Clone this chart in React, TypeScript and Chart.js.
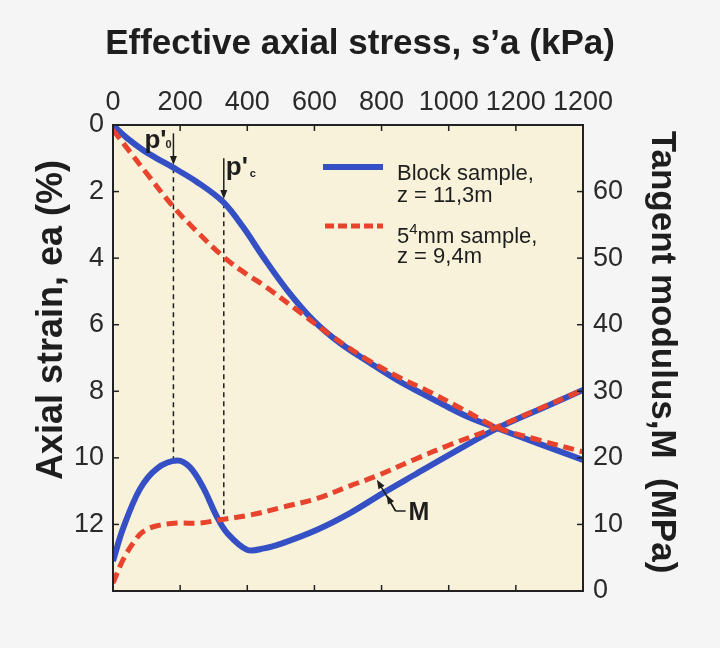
import React, { useEffect, useRef } from "react";
import { Chart, registerables } from "chart.js";

Chart.register(...registerables);

// ---------- data ----------
const stressTickLabels = ["0", "200", "400", "600", "800", "1000", "1200", "1200"];

const blockStrainStress = [0, 40, 89, 130, 176, 250, 328, 387, 447, 518, 596, 676, 766, 846, 923, 983, 1060, 1147, 1270, 1400];
const blockStrain = [0, 0.38, 0.75, 1.0, 1.26, 1.71, 2.31, 3.06, 3.96, 4.95, 5.86, 6.55, 7.15, 7.66, 8.08, 8.4, 8.78, 9.12, 9.58, 10.06];

const sample54StrainStress = [0, 50, 100, 179, 250, 328, 400, 447, 548, 646, 745, 846, 935, 1034, 1147, 1270, 1400];
const sample54Strain = [0.15, 0.8, 1.45, 2.45, 3.2, 3.95, 4.5, 4.8, 5.56, 6.3, 6.97, 7.55, 7.98, 8.5, 9.1, 9.47, 9.82];

const blockModStress = [0, 30, 80, 131, 191, 229, 268, 310, 340, 399, 450, 506, 608, 706, 804, 900, 1000, 1147, 1280, 1400];
const blockMod = [4.5, 9.4, 15.3, 18.4, 19.6, 18.6, 15.6, 11.1, 8.7, 6.2, 6.4, 7.2, 9.2, 11.7, 14.7, 17.5, 20.4, 24.5, 27.5, 30.2];

const sample54ModStress = [0, 30, 60, 89, 131, 191, 259, 319, 408, 506, 608, 706, 786, 900, 1000, 1147, 1280, 1400];
const sample54Mod = [1.2, 4.7, 7.2, 8.9, 9.8, 10.2, 10.2, 10.7, 11.4, 12.6, 13.9, 15.8, 17.3, 19.8, 21.9, 24.7, 27.6, 30.2];

// annotation anchors (data units)
const p0Stress = 180;
const p0ArrowFromStrain = 0.25;
const p0ArrowToStrain = 1.2;
const p0DashTopStrain = 1.3;
const p0DashBottomMod = 19.6;

const pcStress = 330;
const pcArrowFromStrain = 1.0;
const pcArrowToStrain = 2.22;
const pcDashTopStrain = 2.35;
const pcDashBottomMod = 10.7;

const mArrowBlueStress = 815;
const mArrowRedStress = 786;

// ---------- styles ----------
const FONT = "'Liberation Sans', Arial, Helvetica, sans-serif";
const PAGE_BG = "#f5f5f6";
const PLOT_BG = "#f8f2da";
const BLUE = "#3550c4";
const RED = "#e8432c";
const INK = "#1e1e1e";
const TENSION = 0.35;

function interp(xs: number[], ys: number[], x: number) {
  for (let i = 1; i < xs.length; i++) {
    if (x <= xs[i]) {
      const t = (x - xs[i - 1]) / (xs[i] - xs[i - 1]);
      return ys[i - 1] + t * (ys[i] - ys[i - 1]);
    }
  }
  return ys[ys.length - 1];
}

function pts(xs: number[], ys: number[]) {
  return xs.map((x, i) => ({ x, y: ys[i] }));
}

function arrow(ctx: CanvasRenderingContext2D, x1: number, y1: number, x2: number, y2: number) {
  const ang = Math.atan2(y2 - y1, x2 - x1);
  const hl = 9;
  const hw = 3.5;
  ctx.beginPath();
  ctx.moveTo(x1, y1);
  ctx.lineTo(x2 - Math.cos(ang) * hl * 0.7, y2 - Math.sin(ang) * hl * 0.7);
  ctx.stroke();
  ctx.beginPath();
  ctx.moveTo(x2, y2);
  ctx.lineTo(x2 - Math.cos(ang) * hl - Math.sin(ang) * hw, y2 - Math.sin(ang) * hl + Math.cos(ang) * hw);
  ctx.lineTo(x2 - Math.cos(ang) * hl + Math.sin(ang) * hw, y2 - Math.sin(ang) * hl - Math.cos(ang) * hw);
  ctx.closePath();
  ctx.fill();
}

const overlayPlugin = {
  id: "overlay",
  beforeDraw(chart: any) {
    const { ctx, chartArea: a, width, height } = chart;
    ctx.save();
    ctx.fillStyle = PAGE_BG;
    ctx.fillRect(0, 0, width, height);
    ctx.fillStyle = PLOT_BG;
    ctx.fillRect(a.left, a.top, a.right - a.left, a.bottom - a.top);
    ctx.restore();
  },
  beforeDatasetsDraw(chart: any) {
    const { ctx, scales } = chart;
    const x = scales.x, y = scales.y, y2 = scales.y2;
    ctx.save();
    ctx.strokeStyle = INK;
    ctx.lineWidth = 1.5;
    ctx.setLineDash([5, 4]);
    const px0 = x.getPixelForValue(p0Stress);
    ctx.beginPath();
    ctx.moveTo(px0, y.getPixelForValue(p0DashTopStrain));
    ctx.lineTo(px0, y2.getPixelForValue(p0DashBottomMod));
    ctx.stroke();
    const pxc = x.getPixelForValue(pcStress);
    ctx.beginPath();
    ctx.moveTo(pxc, y.getPixelForValue(pcDashTopStrain));
    ctx.lineTo(pxc, y2.getPixelForValue(pcDashBottomMod));
    ctx.stroke();
    ctx.restore();
  },
  afterDraw(chart: any) {
    const { ctx, chartArea: a, scales } = chart;
    const x = scales.x, y = scales.y, y2 = scales.y2;
    ctx.save();

    // frame
    ctx.strokeStyle = "#222";
    ctx.lineWidth = 2;
    ctx.setLineDash([]);
    ctx.strokeRect(a.left, a.top, a.right - a.left, a.bottom - a.top);

    // inward ticks
    ctx.lineWidth = 1.5;
    const tl = 6;
    x.ticks.forEach((t: any) => {
      const p = x.getPixelForValue(t.value);
      ctx.beginPath();
      ctx.moveTo(p, a.top); ctx.lineTo(p, a.top + tl);
      ctx.moveTo(p, a.bottom); ctx.lineTo(p, a.bottom - tl);
      ctx.stroke();
    });
    y.ticks.forEach((t: any) => {
      const p = y.getPixelForValue(t.value);
      ctx.beginPath();
      ctx.moveTo(a.left, p); ctx.lineTo(a.left + tl, p);
      ctx.stroke();
    });
    y2.ticks.forEach((t: any) => {
      const p = y2.getPixelForValue(t.value);
      ctx.beginPath();
      ctx.moveTo(a.right, p); ctx.lineTo(a.right - tl, p);
      ctx.stroke();
    });

    // axis titles
    ctx.fillStyle = INK;
    ctx.font = `bold 35px ${FONT}`;
    ctx.textAlign = "center";
    ctx.textBaseline = "middle";
    ctx.fillText("Effective axial stress, s\u2019a (kPa)", 360, 44);

    ctx.save();
    ctx.translate(52, 320);
    ctx.rotate(-Math.PI / 2);
    ctx.font = `bold 36px ${FONT}`;
    ctx.fillText("Axial strain, ea (%)", 0, 0);
    ctx.restore();

    ctx.save();
    ctx.translate(662, 352);
    ctx.rotate(Math.PI / 2);
    ctx.font = `bold 35px ${FONT}`;
    ctx.fillText("Tangent modulus,M  (MPa)", 0, 0);
    ctx.restore();

    // legend
    const lx = a.left;
    const ly = a.top;
    ctx.lineCap = "butt";
    ctx.strokeStyle = BLUE;
    ctx.lineWidth = 6;
    ctx.beginPath();
    ctx.moveTo(lx + 210, ly + 42);
    ctx.lineTo(lx + 270, ly + 42);
    ctx.stroke();
    ctx.strokeStyle = RED;
    ctx.lineWidth = 5;
    ctx.setLineDash([9, 4]);
    ctx.beginPath();
    ctx.moveTo(lx + 212, ly + 101);
    ctx.lineTo(lx + 270, ly + 101);
    ctx.stroke();
    ctx.setLineDash([]);

    ctx.fillStyle = INK;
    ctx.textAlign = "left";
    ctx.textBaseline = "alphabetic";
    ctx.font = `22px ${FONT}`;
    const tx = lx + 284;
    ctx.fillText("Block sample,", tx, ly + 55);
    ctx.fillText("z = 11,3m", tx, ly + 77);
    ctx.fillText("5", tx, ly + 118);
    const w5 = ctx.measureText("5").width;
    ctx.font = `15px ${FONT}`;
    ctx.fillText("4", tx + w5, ly + 109);
    const w4 = ctx.measureText("4").width;
    ctx.font = `22px ${FONT}`;
    ctx.fillText("mm sample,", tx + w5 + w4, ly + 118);
    ctx.fillText("z = 9,4m", tx, ly + 138);

    // p'0 and p'c arrows and labels
    ctx.strokeStyle = INK;
    ctx.fillStyle = INK;
    ctx.lineWidth = 1.5;
    const ax0 = x.getPixelForValue(p0Stress);
    const ay0a = y.getPixelForValue(p0ArrowFromStrain);
    const ay0b = y.getPixelForValue(p0ArrowToStrain);
    arrow(ctx, ax0, ay0a, ax0, ay0b);
    ctx.font = `bold 26px ${FONT}`;
    ctx.fillText("p'", ax0 - 29, ay0a + 15);
    ctx.font = `bold 11px ${FONT}`;
    ctx.fillText("0", ax0 - 8, ay0a + 15);

    const axc = x.getPixelForValue(pcStress);
    const ayca = y.getPixelForValue(pcArrowFromStrain);
    const aycb = y.getPixelForValue(pcArrowToStrain);
    arrow(ctx, axc, ayca, axc, aycb);
    ctx.font = `bold 26px ${FONT}`;
    ctx.fillText("p'", axc + 2, ayca + 17);
    ctx.font = `bold 11px ${FONT}`;
    ctx.fillText("c", axc + 26, ayca + 19);

    // M annotation
    const bx = x.getPixelForValue(mArrowBlueStress);
    const by = y2.getPixelForValue(interp(blockModStress, blockMod, mArrowBlueStress)) + 4;
    const rx = x.getPixelForValue(mArrowRedStress);
    const ry = y2.getPixelForValue(interp(sample54ModStress, sample54Mod, mArrowRedStress)) + 4;
    const cx = bx + 9;
    const cy = by + 16;
    ctx.lineWidth = 1.5;
    ctx.beginPath();
    ctx.moveTo(cx + 10, cy);
    ctx.lineTo(cx, cy);
    ctx.stroke();
    arrow(ctx, cx, cy, bx, by);
    arrow(ctx, cx, cy, rx, ry);
    ctx.font = `bold 25px ${FONT}`;
    ctx.textBaseline = "middle";
    ctx.fillText("M", cx + 13, cy + 2);

    ctx.restore();
  },
};

function lineDs(label: string, xs: number[], ys: number[], axis: string, color: string, width: number, dash: number[]) {
  return {
    label,
    data: pts(xs, ys),
    yAxisID: axis,
    showLine: true,
    borderColor: color,
    borderWidth: width,
    borderDash: dash,
    pointRadius: 0,
    tension: TENSION,
    borderCapStyle: "butt",
    borderJoinStyle: "round",
  };
}

export default function App() {
  const ref = useRef<HTMLCanvasElement | null>(null);

  useEffect(() => {
    document.body.style.margin = "0";
    document.body.style.background = PAGE_BG;
    const canvas = ref.current;
    if (!canvas) return;
    const tickFont = { family: FONT, size: 27 };
    const chart = new Chart(canvas, {
      type: "scatter",
      data: {
        datasets: [
          lineDs("54mm sample strain", sample54StrainStress, sample54Strain, "y", RED, 5, [11, 6]),
          lineDs("54mm sample M", sample54ModStress, sample54Mod, "y2", RED, 5, [11, 6]),
          lineDs("Block sample strain", blockStrainStress, blockStrain, "y", BLUE, 6, []),
          lineDs("Block sample M", blockModStress, blockMod, "y2", BLUE, 6, []),
        ],
      },
      options: {
        animation: false,
        responsive: false,
        devicePixelRatio: 1,
        layout: { padding: { left: 0, right: 0, top: 0, bottom: 57 } },
        plugins: { legend: { display: false }, tooltip: { enabled: false } },
        scales: {
          x: {
            type: "linear",
            position: "top",
            min: 0,
            max: 1400,
            grid: { display: false, drawTicks: false },
            border: { display: false },
            ticks: {
              stepSize: 200,
              autoSkip: false,
              maxRotation: 0,
              padding: 6,
              color: "#2a2a2a",
              font: tickFont,
              callback: (_v: any, i: number) => stressTickLabels[i] ?? "",
            },
            afterFit: (s: any) => { s.height = 125; },
          },
          y: {
            type: "linear",
            position: "left",
            reverse: true,
            min: 0,
            max: 14,
            grid: { display: false, drawTicks: false },
            border: { display: false },
            ticks: {
              stepSize: 2,
              padding: 9,
              color: "#2a2a2a",
              font: tickFont,
              callback: (v: any) => (v === 14 ? "" : String(v)),
            },
            afterFit: (s: any) => { s.width = 113; },
          },
          y2: {
            type: "linear",
            position: "right",
            min: 0,
            max: 70,
            grid: { display: false, drawTicks: false },
            border: { display: false },
            ticks: {
              stepSize: 10,
              padding: 10,
              color: "#2a2a2a",
              font: tickFont,
              callback: (v: any) => (v === 70 ? "" : String(v)),
            },
            afterFit: (s: any) => { s.width = 137; },
          },
        },
      },
      plugins: [overlayPlugin],
    } as any);
    return () => chart.destroy();
  }, []);

  return (
    <div style={{ position: "absolute", left: 0, top: 0, width: 720, height: 648, background: PAGE_BG }}>
      <canvas ref={ref} width={720} height={648} style={{ display: "block" }} />
    </div>
  );
}
